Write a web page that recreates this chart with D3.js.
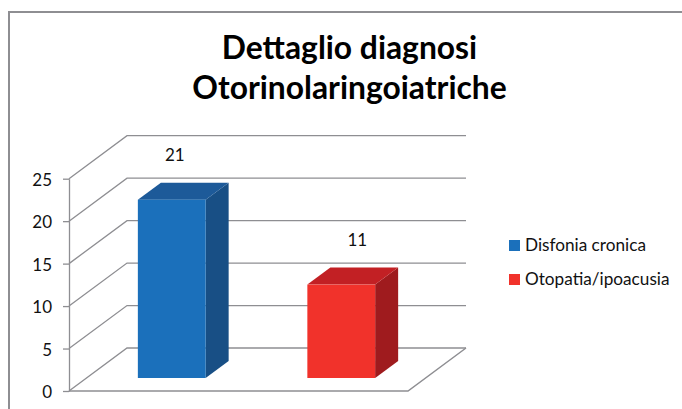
<!DOCTYPE html>
<html>
<head>
<meta charset="utf-8">
<script src="https://cdn.jsdelivr.net/npm/d3@7"></script>
<style>
  html, body { margin: 0; padding: 0; background: #fff; overflow: hidden; }
  text { font-family: Lato, "Noto Sans", sans-serif; fill: #111; }
</style>
</head>
<body>
<div id="chart"></div>
<script>
const titleLines = ['Dettaglio diagnosi', 'Otorinolaringoiatriche'];
const seriesNames = ['Disfonia cronica', 'Otopatia/ipoacusia'];
const seriesValues = [21, 11];
const yTicks = [0, 5, 10, 15, 20, 25];
const frontColors = ['#1b70bb', '#f1322b'];
const topColors = ['#1d5a99', '#c22024'];
const sideColors = ['#184f85', '#9f1b1e'];

const width = 682, height = 409;
const gridColor = '#8e8e92';

// the plot box: front left corner of the floor, and how far the walls recede
const left = 69, right = 408, depthX = 58, depthY = 43;
const barShiftX = 18, barShiftY = 13;
const barDepthX = 23, barDepthY = 17;
// the data labels do not sit at the same spot over each bar
const labelNudge = [3, 16];

const svg = d3.select('#chart').append('svg')
    .attr('width', width)
    .attr('height', height);

svg.append('path')
    .attr('d', `M9,${height}V12H${width}`)
    .attr('fill', 'none')
    .attr('stroke', gridColor)
    .attr('stroke-width', 2);

svg.append('g').selectAll('text')
    .data(titleLines)
    .enter().append('text')
    .attr('x', 349.5)
    .attr('y', (d, i) => 59 + i * 40)
    .attr('text-anchor', 'middle')
    .attr('font-size', 31.8)
    .attr('font-weight', 700)
    .style('fill', '#000')
    .text(d => d);

const y = d3.scaleLinear().domain([0, 25]).range([391, 178.7]);
const x = d3.scaleBand().domain(seriesNames).range([left, right])
    .paddingInner(0.6).paddingOuter(0.3);

// walls
const wall = svg.append('g')
    .attr('fill', 'none')
    .attr('stroke', gridColor)
    .attr('stroke-width', 1.3);

wall.selectAll('path.grid')
    .data(yTicks)
    .enter().append('path')
    .attr('class', 'grid')
    .attr('d', d => `M${left},${y(d)}L${left + depthX},${y(d) - depthY}H${right + depthX}`);

wall.append('path')
    .attr('d', `M${left},${y(0)}H${right}L${right + depthX},${y(0) - depthY}`)
    .attr('stroke-width', 1.5);

const axis = d3.axisLeft(y).tickValues(yTicks).tickSize(6).tickSizeOuter(0).tickPadding(11);
const axisG = svg.append('g')
    .attr('transform', `translate(${left},0)`)
    .call(axis);
axisG.select('.domain').attr('stroke', gridColor).attr('stroke-width', 1.3);
axisG.selectAll('.tick line').attr('stroke', gridColor).attr('stroke-width', 1.3);
axisG.selectAll('.tick text')
    .attr('font-size', 17)
    .attr('dy', '0.4em')
    .style('font-family', 'Lato, "Noto Sans", sans-serif')
    .style('fill', '#111');

// bars, each one a front, top and side face
const bars = svg.append('g').selectAll('g')
    .data(seriesNames)
    .enter().append('g');

const front = (d, i) => ({
    x0: x(d) + barShiftX,
    x1: x(d) + barShiftX + x.bandwidth(),
    y0: y(0) - barShiftY,
    y1: y(seriesValues[i]) - barShiftY
});

bars.append('path')
    .attr('fill', (d, i) => sideColors[i])
    .attr('d', (d, i) => {
        const f = front(d, i);
        return `M${f.x1},${f.y0}V${f.y1}l${barDepthX},${-barDepthY}V${f.y0 - barDepthY}Z`;
    });

bars.append('path')
    .attr('fill', (d, i) => topColors[i])
    .attr('d', (d, i) => {
        const f = front(d, i);
        return `M${f.x0},${f.y1}H${f.x1}l${barDepthX},${-barDepthY}H${f.x0 + barDepthX}Z`;
    });

bars.append('rect')
    .attr('fill', (d, i) => frontColors[i])
    .attr('x', (d, i) => front(d, i).x0)
    .attr('y', (d, i) => front(d, i).y1)
    .attr('width', x.bandwidth())
    .attr('height', (d, i) => front(d, i).y0 - front(d, i).y1);

bars.append('text')
    .attr('x', (d, i) => x(d) + barShiftX + x.bandwidth() / 2 + labelNudge[i])
    .attr('y', (d, i) => y(seriesValues[i]) - 52)
    .attr('text-anchor', 'middle')
    .attr('font-size', 17)
    .text((d, i) => seriesValues[i]);

// legend
const legend = svg.append('g').selectAll('g')
    .data(seriesNames)
    .enter().append('g')
    .attr('transform', (d, i) => `translate(509,${240 + i * 34})`);

legend.append('rect')
    .attr('width', 11)
    .attr('height', 11)
    .attr('fill', (d, i) => frontColors[i]);

legend.append('text')
    .attr('x', 16)
    .attr('y', 11)
    .attr('font-size', 17.2)
    .text(d => d);
</script>
</body>
</html>
